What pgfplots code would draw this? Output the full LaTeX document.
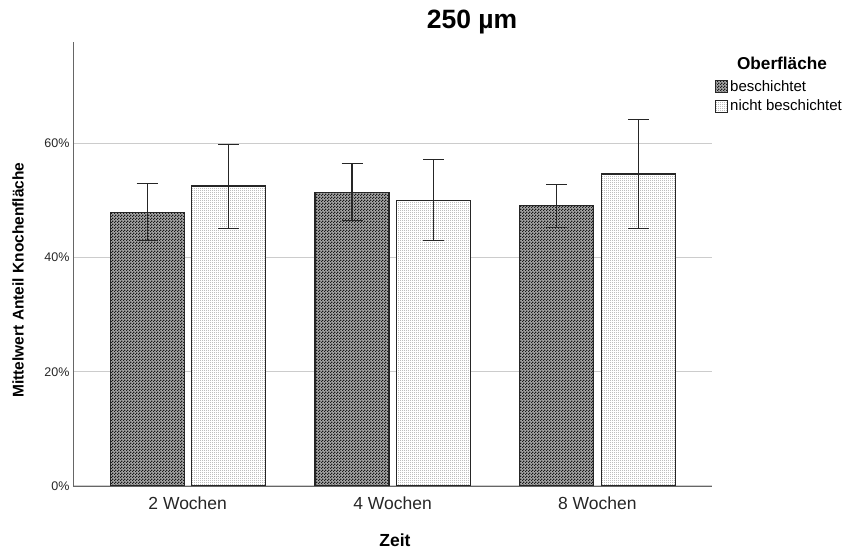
\documentclass[border=0pt]{standalone}
\usepackage{fontspec}
\setmainfont{Liberation Sans}
\usepackage{pgfplots}
\pgfplotsset{compat=1.18}
\usetikzlibrary{patterns}
\pgfdeclarepatternformonly{darkcheck}{\pgfpointorigin}{\pgfpoint{3pt}{3pt}}{\pgfpoint{3pt}{3pt}}{%
  \pgfpathrectangle{\pgfpointorigin}{\pgfpoint{1.5pt}{1.5pt}}%
  \pgfpathrectangle{\pgfpoint{1.5pt}{1.5pt}}{\pgfpoint{1.5pt}{1.5pt}}%
  \pgfusepath{fill}}
\pgfdeclarepatternformonly{lightdots}{\pgfpointorigin}{\pgfpoint{2pt}{2pt}}{\pgfpoint{2pt}{2pt}}{%
  \pgfpathrectangle{\pgfpointorigin}{\pgfpoint{1pt}{1pt}}%
  \pgfusepath{fill}}
\begin{document}
\begin{tikzpicture}
\path[use as bounding box] (-73pt,-67pt) rectangle (774pt,486pt);
\begin{axis}[
  scale only axis,
  width=639pt, height=444pt,
  xmin=-0.56, xmax=2.56,
  ymin=0, ymax=77.7,
  axis lines*=left,
  axis line style={black!60, line width=0.8pt},
  xtick={0,1,2},
  xticklabels={2 Wochen,4 Wochen,8 Wochen},
  ytick={0,20,40,60},
  yticklabels={0\%,20\%,40\%,60\%},
  major tick length=0pt,
  ymajorgrids,
  grid style={black!20, line width=1.2pt},
  xticklabel style={font=\fontsize{17.5}{20}\selectfont, text=black!85, yshift=-7pt},
  yticklabel style={font=\fontsize{12.5}{14}\selectfont, text=black!85},
  ybar, bar width=74pt,
  error bars/y dir=both, error bars/y explicit,
  error bars/error bar style={line width=1.2pt, black!85},
  error bars/error mark options={rotate=90, mark size=10.5pt, line width=1.2pt, black!85},
  legend style={at={(1.005,0.918)}, anchor=north west, draw=none, fill=none,
    font=\fontsize{15}{17}\selectfont, row sep=3pt, inner sep=0pt,
    /tikz/every even column/.append style={column sep=0pt}},
  legend cell align=left,
  legend image code/.code={\draw[#1, line width=0.8pt] (0pt,-6pt) rectangle (12pt,6pt);},
]
\addplot[bar shift=-40.5pt, draw=black!85, line width=1.3pt, fill=black!35,
  postaction={pattern=darkcheck, pattern color=black!90}]
  coordinates {(0,47.9) += (0,5.1) -= (0,5.0)
               (1,51.4) += (0,5.0) -= (0,5.0)
               (2,49.1) += (0,3.7) -= (0,3.8)};
\addlegendentry{beschichtet}
\addplot[bar shift=41pt, draw=black!85, line width=1.3pt, fill=white,
  postaction={pattern=lightdots, pattern color=black!60}]
  coordinates {(0,52.5) += (0,7.3) -= (0,7.5)
               (1,50.0) += (0,7.1) -= (0,7.1)
               (2,54.6) += (0,9.5) -= (0,9.6)};
\addlegendentry{nicht beschichtet}
\end{axis}
\node[font=\bfseries\fontsize{26.5}{30}\selectfont] at (399pt,464pt) {250 µm};
\node[font=\bfseries\fontsize{17.2}{20}\selectfont] at (709pt,423pt) {Oberfläche};
\node[font=\bfseries\fontsize{15.5}{18}\selectfont, rotate=90] at (-55pt,206pt) {Mittelwert Anteil Knochenfläche};
\node[font=\bfseries\fontsize{17.5}{20}\selectfont] at (322pt,-54pt) {Zeit};
\end{tikzpicture}
\end{document}
